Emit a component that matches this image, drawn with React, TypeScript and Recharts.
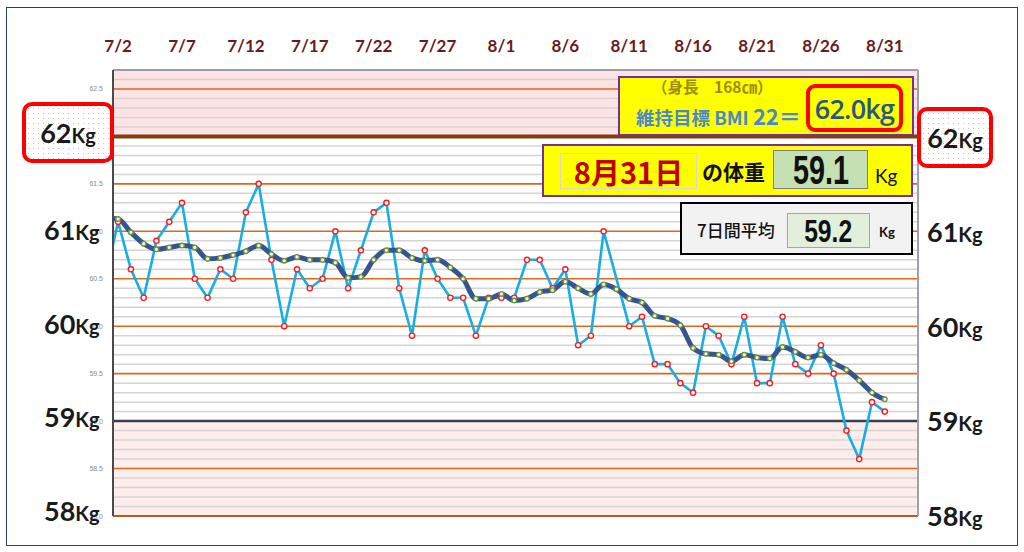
import React from 'react';
import { LineChart, Line, XAxis, YAxis, ReferenceLine, ReferenceArea } from 'recharts';

// 7/1 .. 8/31 (7/1 sits just left of the plot and is clipped)
const dateLabels = [
  '7/1', '7/2', '7/3', '7/4', '7/5', '7/6', '7/7', '7/8', '7/9', '7/10',
  '7/11', '7/12', '7/13', '7/14', '7/15', '7/16', '7/17', '7/18', '7/19', '7/20',
  '7/21', '7/22', '7/23', '7/24', '7/25', '7/26', '7/27', '7/28', '7/29', '7/30',
  '7/31', '8/1', '8/2', '8/3', '8/4', '8/5', '8/6', '8/7', '8/8', '8/9',
  '8/10', '8/11', '8/12', '8/13', '8/14', '8/15', '8/16', '8/17', '8/18', '8/19',
  '8/20', '8/21', '8/22', '8/23', '8/24', '8/25', '8/26', '8/27', '8/28', '8/29',
  '8/30', '8/31',
];

// daily weight (kg), 8/10 not measured
const weights = [
  60.5, 61.1, 60.6, 60.3, 60.9, 61.1, 61.3, 60.5, 60.3, 60.6,
  60.5, 61.2, 61.5, 60.7, 60.0, 60.6, 60.4, 60.5, 61.0, 60.4,
  60.8, 61.2, 61.3, 60.4, 59.9, 60.8, 60.5, 60.3, 60.3, 59.9,
  60.3, 60.3, 60.3, 60.7, 60.7, 60.4, 60.6, 59.8, 59.9, 61.0,
  null, 60.0, 60.1, 59.6, 59.6, 59.4, 59.3, 60.0, 59.9, 59.6,
  60.1, 59.4, 59.4, 60.1, 59.6, 59.5, 59.8, 59.5, 58.9, 58.6,
  59.2, 59.1,
];

// 7-day average (kg)
const avg7 = [
  61.14, 61.13, 60.99, 60.87, 60.81, 60.83, 60.85, 60.83, 60.71, 60.72,
  60.75, 60.79, 60.85, 60.76, 60.69, 60.73, 60.70, 60.70, 60.67, 60.51,
  60.52, 60.70, 60.80, 60.80, 60.72, 60.69, 60.70, 60.62, 60.50, 60.29,
  60.29, 60.34, 60.27, 60.29, 60.36, 60.38, 60.47, 60.40, 60.34, 60.44,
  60.39, 60.29, 60.25, 60.11, 60.08, 60.01, 59.77, 59.71, 59.70, 59.63,
  59.70, 59.67, 59.66, 59.78, 59.73, 59.67, 59.70, 59.61, 59.54, 59.43,
  59.30, 59.23,
];

const xTicks = [1, 6, 11, 16, 21, 26, 31, 36, 41, 46, 51, 56, 61];
const yTicks = [58, 58.5, 59, 59.5, 60, 60.5, 61, 61.5, 62, 62.5];
const kgLabels = [62, 61, 60, 59, 58];

const data = dateLabels.map((label, i) => ({ d: i, label, weight: weights[i], avg: avg7[i] }));

const minorLines: number[] = [];
for (let k = 1; k < 47; k++) {
  if (k % 5 !== 0) minorLines.push(Math.round((58 + k / 10) * 10) / 10);
}

const JP = '"Noto Sans CJK JP", "Noto Sans", sans-serif';
const LAT = 'Lato, "Open Sans", sans-serif';
const NARROW = '"Liberation Sans", Arial, sans-serif';
const ORANGE = '#e0661c';

const dotted: React.CSSProperties = {
  backgroundColor: '#fff',
  backgroundImage: 'radial-gradient(#f4b4b4 0.6px, transparent 0.8px)',
  backgroundSize: '5px 5px',
};

const KgText = ({ v }: { v: number }) => (
  <span style={{ fontFamily: LAT, fontWeight: 700, color: '#1a1a1a', whiteSpace: 'nowrap' }}>
    <span style={{ fontSize: 27 }}>{v}</span>
    <span style={{ fontSize: 20 }}>Kg</span>
  </span>
);

const BigLabel = ({ v, left, cy }: { v: number; left: number; cy: number }) => (
  <div style={{ position: 'absolute', left, top: cy - 17, height: 34, lineHeight: '34px' }}>
    <KgText v={v} />
  </div>
);

const XTick = (props: any) => (
  <text x={props.x} y={52} textAnchor="middle" fontFamily={LAT} fontWeight={700} fontSize={17} fill="#6b1a1a">
    {dateLabels[props.payload.value]}
  </text>
);

const YTick = (props: any) => (
  <text x={103} y={props.y + 2.5} textAnchor="end" fontFamily="Arial, sans-serif" fontSize={7} fill="#8a8a8a">
    {Number(props.payload.value).toFixed(1)}
  </text>
);

const Narrow = ({ text, size, sx }: { text: string; size: number; sx: number }) => (
  <span
    style={{
      display: 'inline-block', fontFamily: NARROW, fontSize: size, fontWeight: 700, color: '#111',
      lineHeight: 1, transform: `scaleX(${sx})`,
    }}
  >
    {text}
  </span>
);

export default function App() {
  return (
    <div style={{ position: 'absolute', left: 0, top: 0, width: 1024, height: 552, background: '#fff', overflow: 'hidden' }}>
      <div
        style={{
          position: 'absolute', left: 6, top: 7, width: 1012, height: 539,
          border: '1.5px solid #2c3e66', boxSizing: 'border-box',
        }}
      />
      <div style={{ position: 'absolute', left: 0, top: 0 }}>
        <LineChart width={1024} height={552} data={data} margin={{ top: 40, right: 106, bottom: 36, left: 93 }}>
          <XAxis
            dataKey="d"
            type="number"
            orientation="top"
            domain={[0.6, 63.6]}
            allowDataOverflow
            ticks={xTicks}
            height={30}
            tick={<XTick />}
            tickLine={false}
            axisLine={{ stroke: '#9c9caa', strokeWidth: 2 }}
          />
          <YAxis
            type="number"
            domain={[58, 62.7]}
            allowDataOverflow
            ticks={yTicks}
            width={20}
            tick={<YTick />}
            tickLine={false}
            axisLine={{ stroke: '#4a4a4a', strokeWidth: 2 }}
          />
          <ReferenceArea y1={62} y2={62.7} fill="#fde3e3" fillOpacity={1} stroke="none" />
          <ReferenceArea y1={58} y2={59} fill="#fdeeec" fillOpacity={1} stroke="none" />
          {minorLines.map((v) => (
            <ReferenceLine key={v} y={v} stroke="#d4d4d4" strokeWidth={1.5} />
          ))}
          {[58.5, 59.5, 60, 60.5, 61, 61.5, 62.5].map((v) => (
            <ReferenceLine key={'o' + v} y={v} stroke={ORANGE} strokeWidth={1.6} />
          ))}
          <ReferenceLine y={58} stroke="#b85a1e" strokeWidth={2} />
          <ReferenceLine y={59} stroke="#3a3e4e" strokeWidth={2.5} />
          <ReferenceLine y={62} stroke="#843c0c" strokeWidth={4} />
          <ReferenceLine x={63.6} stroke="#a0a0aa" strokeWidth={2} />
          <Line
            type="linear"
            dataKey="weight"
            stroke="#17aee6"
            strokeWidth={2.6}
            connectNulls
            dot={{ r: 2.6, stroke: '#ff1a1a', strokeWidth: 1.4, fill: '#fff' }}
            activeDot={false}
            isAnimationActive={false}
          />
          <Line
            type="monotone"
            dataKey="avg"
            stroke="#34558f"
            strokeWidth={5}
            dot={{ r: 2.3, stroke: '#6f9440', strokeWidth: 1.4, fill: '#f4f7e0' }}
            activeDot={false}
            isAnimationActive={false}
          />
        </LineChart>
      </div>

      {/* big kg labels */}
      {kgLabels.slice(1).map((v, i) => (
        <BigLabel key={'l' + v} v={v} left={44} cy={230 + i * 93.5} />
      ))}
      {kgLabels.slice(1).map((v, i) => (
        <BigLabel key={'r' + v} v={v} left={927} cy={232 + i * 94.5} />
      ))}
      <div
        style={{
          position: 'absolute', left: 22, top: 102, width: 92, height: 61, boxSizing: 'border-box',
          border: '4px solid #ff0000', borderRadius: 10, display: 'flex', alignItems: 'center', justifyContent: 'center',
          ...dotted,
        }}
      >
        <KgText v={kgLabels[0]} />
      </div>
      <div
        style={{
          position: 'absolute', left: 917, top: 107, width: 76, height: 61, boxSizing: 'border-box',
          border: '4px solid #ff0000', borderRadius: 10, display: 'flex', alignItems: 'center', justifyContent: 'center',
          ...dotted,
        }}
      >
        <KgText v={kgLabels[0]} />
      </div>

      {/* target box */}
      <div
        style={{
          position: 'absolute', left: 618, top: 76, width: 296, height: 60, boxSizing: 'border-box',
          background: '#ffff00', border: '2px solid #7030a0', fontFamily: JP,
        }}
      >
        <div style={{ position: 'absolute', left: 32, top: -3, fontSize: 15.5, fontWeight: 700, color: '#a08c10', whiteSpace: 'nowrap' }}>
          （身長　168㎝）
        </div>
        <div style={{ position: 'absolute', left: 16, top: 22, fontWeight: 700, color: '#4a88c8', whiteSpace: 'nowrap', lineHeight: '30px' }}>
          <span style={{ fontSize: 18.5 }}>維持目標 BMI </span>
          <span style={{ fontSize: 22 }}>22＝</span>
        </div>
        <div
          style={{
            position: 'absolute', left: 186, top: 6, width: 97, height: 48, boxSizing: 'border-box',
            border: '4px solid #ff0000', borderRadius: 9, display: 'flex', alignItems: 'center', justifyContent: 'center',
            fontFamily: '"Open Sans", sans-serif', fontSize: 27, fontWeight: 600, color: '#285784', letterSpacing: -0.8,
          }}
        >
          62.0kg
        </div>
      </div>

      {/* today's weight box */}
      <div
        style={{
          position: 'absolute', left: 542, top: 144, width: 371, height: 53, boxSizing: 'border-box',
          background: '#ffff00', border: '2px solid #7030a0', fontFamily: JP,
        }}
      >
        <div
          style={{
            position: 'absolute', left: 16, top: 7, width: 137, height: 36, boxSizing: 'border-box',
            border: '1px solid #d8d8c8', display: 'flex', alignItems: 'center', justifyContent: 'center',
            fontSize: 29, fontWeight: 700, color: '#c00000', lineHeight: 1,
          }}
        >
          8月31日
        </div>
        <div style={{ position: 'absolute', left: 158, top: 7, fontSize: 21, fontWeight: 700, color: '#111', lineHeight: '36px' }}>
          の体重
        </div>
        <div
          style={{
            position: 'absolute', left: 229, top: 4, width: 95, height: 39, boxSizing: 'border-box',
            background: '#c5e0b3', border: '1px solid #7f7f7f', display: 'flex', alignItems: 'center', justifyContent: 'center',
          }}
        >
          <Narrow text="59.1" size={40} sx={0.72} />
        </div>
        <div style={{ position: 'absolute', left: 331, top: 12, fontSize: 19, color: '#111', fontFamily: LAT, fontWeight: 400, lineHeight: '36px' }}>
          Kg
        </div>
      </div>

      {/* 7-day average box */}
      <div
        style={{
          position: 'absolute', left: 680, top: 202, width: 233, height: 53, boxSizing: 'border-box',
          background: '#f2f2f2', border: '2px solid #000', fontFamily: JP,
        }}
      >
        <div style={{ position: 'absolute', left: 15, top: 11, fontSize: 17, color: '#111', fontWeight: 500, lineHeight: '30px' }}>
          7日間平均
        </div>
        <div
          style={{
            position: 'absolute', left: 105, top: 9, width: 83, height: 35, boxSizing: 'border-box',
            background: '#e2efda', border: '1px solid #a6a6a6', display: 'flex', alignItems: 'center', justifyContent: 'center',
          }}
        >
          <Narrow text="59.2" size={32} sx={0.77} />
        </div>
        <div style={{ position: 'absolute', left: 197, top: 16, fontSize: 13, color: '#111', fontFamily: LAT, fontWeight: 700, lineHeight: '24px' }}>
          Kg
        </div>
      </div>
    </div>
  );
}
